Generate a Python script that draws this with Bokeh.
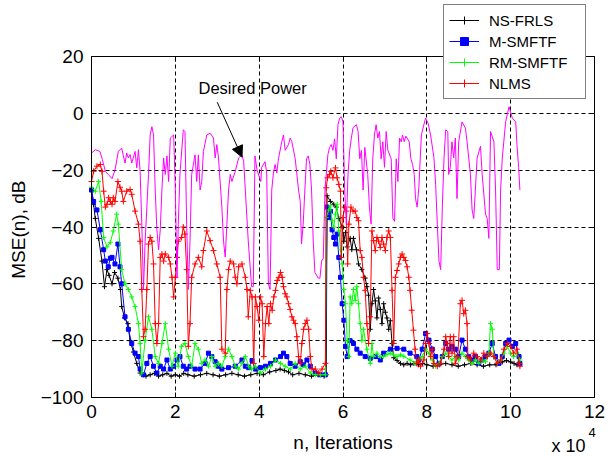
from bokeh.plotting import figure
from bokeh.models import (Range1d, FixedTicker, LinearAxis, Legend, LegendItem,
                          Label, Arrow, NormalHead, Grid)
from bokeh.embed import file_html
from bokeh.resources import INLINE

# x values are in units of 1e4 iterations
x_ticks = [0, 2, 4, 6, 8, 10, 12]
y_ticks = [-100, -80, -60, -40, -20, 0, 20]

desired_power = [
    (0.00, -14), (0.09, -12.8), (0.2, -13.4), (0.26, -16.3), (0.33, -20.4), (0.4, -21.5),
    (0.49, -23), (0.56, -20), (0.64, -13.4), (0.72, -12.2), (0.76, -15), (0.8, -17.5),
    (0.84, -14), (0.88, -15.7), (0.92, -14.5), (0.96, -17.5), (1.04, -13.4), (1.08, -19.2),
    (1.12, -12.8), (1.16, -20.4), (1.2, -39), (1.24, -62), (1.28, -45), (1.36, -21.5),
    (1.4, -7.6), (1.44, -4.7), (1.48, -7.6), (1.52, -27), (1.56, -41), (1.6, -48),
    (1.64, -41), (1.68, -27), (1.72, -15.7), (1.76, -21.5), (1.8, -15), (1.84, -24),
    (1.88, -8.7), (1.96, -7.6), (2.0, -27), (2.04, -58), (2.07, -39), (2.11, -21.5),
    (2.19, -5.8), (2.23, -6.4), (2.27, -39), (2.31, -62), (2.35, -45), (2.39, -21.5),
    (2.47, -14.6), (2.51, -24), (2.55, -14.6), (2.59, -27), (2.63, -24), (2.67, -13.4),
    (2.75, -7.6), (2.83, -7), (2.91, -8.7), (2.95, -15.7), (2.99, -11), (3.03, -15.7),
    (3.11, -33), (3.15, -45), (3.19, -50.6), (3.23, -39), (3.27, -27), (3.31, -21.5),
    (3.35, -24), (3.43, -20.4), (3.51, -15.7), (3.59, -14.6), (3.63, -17), (3.67, -27),
    (3.74, -45), (3.82, -61), (3.86, -61), (3.9, -15), (3.95, -20), (4.04, -24),
    (4.06, -19), (4.14, -17), (4.18, -21), (4.22, -60), (4.26, -62), (4.3, -27),
    (4.34, -21), (4.38, -18), (4.42, -21), (4.46, -16), (4.54, -10), (4.58, -7.6),
    (4.62, -13), (4.7, -11), (4.74, -8.7), (4.78, -10), (4.86, -16), (4.94, -27),
    (4.98, -31), (5.01, -46), (5.05, -39), (5.09, -27), (5.13, -16), (5.17, -15),
    (5.21, -18), (5.25, -27), (5.29, -45), (5.33, -56), (5.41, -58), (5.45, -58),
    (5.49, -52), (5.53, -51), (5.57, -27), (5.6, -21.5), (5.64, -14.5), (5.68, -12),
    (5.72, -11), (5.76, -13), (5.8, -9), (5.84, -16), (5.88, -4), (5.92, -1.7),
    (5.96, -1.2), (6.0, -3), (6.04, -27), (6.08, -39), (6.12, -21.5), (6.16, -13),
    (6.2, -8.7), (6.24, -5), (6.32, -4), (6.36, -6.4), (6.4, -16), (6.44, -13),
    (6.48, -27), (6.52, -12), (6.55, -16), (6.59, -21.5), (6.63, -33), (6.67, -39),
    (6.71, -16), (6.75, -7.6), (6.79, -4), (6.83, -8.7), (6.87, -6.4), (6.91, -16),
    (6.95, -10), (6.99, -19), (7.03, -6.4), (7.07, -13), (7.15, -16), (7.19, -37),
    (7.23, -38), (7.27, -16), (7.31, -24), (7.35, -8.7), (7.39, -10), (7.42, -7.6),
    (7.46, -10), (7.5, -8), (7.58, -10), (7.62, -16), (7.66, -18), (7.7, -21.5),
    (7.73, -30), (7.77, -33), (7.81, -26), (7.87, -7.6), (7.93, -4), (7.97, -1.7),
    (8.03, -3.5), (8.09, -7.6), (8.17, -15.7), (8.21, -25), (8.25, -39), (8.29, -52),
    (8.33, -55), (8.37, -33), (8.41, -15.7), (8.45, -5.8), (8.5, -6.4), (8.52, -21.5),
    (8.56, -19), (8.6, -10), (8.64, -15.7), (8.68, -8.7), (8.72, -30), (8.76, -10),
    (8.84, -3), (8.92, -5.2), (8.96, -10), (9.04, -21.5), (9.08, -34), (9.12, -37),
    (9.2, -15.7), (9.28, -11.6), (9.32, -21.5), (9.4, -35.5), (9.44, -37), (9.48, -44),
    (9.52, -6.4), (9.6, -10), (9.64, -27), (9.68, -55), (9.73, -55), (9.76, -27),
    (9.8, -15.7), (9.88, -3), (9.96, 2.3), (10.04, -1.7), (10.12, -3), (10.15, -11),
    (10.19, -19), (10.22, -27),
]

ns_frls = [
    (0.0, -27), (0.05, -32), (0.09, -37), (0.17, -44), (0.25, -52), (0.31, -61),
    (0.37, -55), (0.42, -57), (0.49, -60), (0.55, -56), (0.63, -58), (0.69, -62),
    (0.72, -68), (0.79, -72), (0.87, -74), (0.92, -80), (1.0, -84), (1.08, -88),
    (1.16, -91.4), (1.24, -92), (1.3, -92.5), (1.4, -92), (1.5, -91.5), (1.6, -92.5),
    (1.7, -92), (1.8, -91.5), (1.9, -92.5), (2.0, -92), (2.1, -92.5), (2.2, -91.5),
    (2.3, -92), (2.45, -92.5), (2.6, -92), (2.75, -91.5), (2.9, -92), (3.05, -92.5),
    (3.2, -92), (3.35, -91.5), (3.5, -92), (3.65, -92.5), (3.8, -92), (3.95, -91.5),
    (4.1, -92), (4.25, -91), (4.4, -90.5), (4.5, -90), (4.6, -90.5), (4.7, -91),
    (4.8, -92), (4.95, -91.5), (5.1, -92), (5.25, -92.5), (5.4, -92), (5.55, -92.5),
    (5.6, -92),
    (5.62, -29), (5.7, -31), (5.78, -32), (5.84, -33), (5.9, -37), (5.98, -40),
    (6.02, -45), (6.06, -42), (6.1, -47), (6.17, -44), (6.21, -48), (6.25, -44),
    (6.32, -48), (6.37, -53), (6.45, -55), (6.53, -58), (6.57, -61), (6.61, -64),
    (6.65, -76), (6.69, -67), (6.73, -62), (6.77, -66), (6.81, -72), (6.85, -65),
    (6.89, -69), (6.93, -74), (6.97, -67), (7.01, -70), (7.05, -72), (7.09, -76),
    (7.13, -73), (7.17, -81), (7.21, -86), (7.29, -87), (7.37, -88), (7.45, -88.5),
    (7.53, -88), (7.61, -88.5), (7.69, -88), (7.8, -88.5), (7.9, -88), (8.0, -88.5),
    (8.15, -89), (8.3, -88.5), (8.45, -88), (8.6, -88.5), (8.75, -89), (8.9, -88.5),
    (9.05, -88), (9.2, -88.5), (9.35, -89), (9.5, -88.5), (9.65, -88.5), (9.8, -87.5),
    (9.9, -87), (10.0, -87.5), (10.08, -88), (10.15, -88.5), (10.22, -88.5),
]

m_smftf = [
    (0.0, -27), (0.05, -31), (0.13, -34), (0.21, -41), (0.29, -48), (0.33, -52),
    (0.4, -54), (0.45, -51), (0.49, -50.7), (0.56, -53), (0.63, -46), (0.68, -54),
    (0.72, -60), (0.8, -71.6), (0.88, -76), (0.96, -81), (1.04, -84.4), (1.12, -85.6),
    (1.16, -90), (1.24, -92), (1.32, -88), (1.4, -85.6), (1.48, -89), (1.56, -91.4),
    (1.64, -89), (1.72, -90), (1.8, -86.8), (1.88, -90), (1.96, -89), (2.04, -86.8),
    (2.11, -85.6), (2.19, -89), (2.27, -90), (2.35, -89), (2.47, -90), (2.59, -90),
    (2.71, -88), (2.79, -84.4), (2.87, -85.6), (2.95, -87.4), (3.03, -89), (3.11, -90),
    (3.27, -89.5), (3.43, -89), (3.59, -86.8), (3.67, -89), (3.75, -89.5), (3.83, -87),
    (3.91, -90), (4.03, -89.5), (4.15, -89), (4.27, -88), (4.39, -86.8), (4.51, -85.6),
    (4.58, -84.4), (4.66, -85.6), (4.74, -88), (4.86, -89), (4.98, -87.4), (5.06, -88.5),
    (5.14, -86.8), (5.22, -89), (5.34, -91.4), (5.46, -92), (5.58, -92),
    (5.62, -33), (5.66, -36.7), (5.7, -34.5), (5.74, -41), (5.78, -43.7), (5.82, -46),
    (5.86, -42.5), (5.9, -50.7), (5.94, -57.7), (5.98, -67), (6.02, -72.8), (6.06, -82),
    (6.1, -85.6), (6.17, -80), (6.25, -81), (6.33, -83), (6.41, -84.4), (6.53, -85.6),
    (6.65, -86.2), (6.77, -85.6), (6.89, -86.8), (6.97, -84.4), (7.13, -83), (7.29, -82.7),
    (7.45, -83), (7.6, -84.4), (7.76, -85.6), (7.81, -86.8), (7.89, -83), (7.97, -77.5),
    (8.05, -79.8), (8.13, -83), (8.21, -85.6), (8.29, -88), (8.37, -85.6), (8.45, -81),
    (8.52, -83), (8.6, -82), (8.68, -83), (8.76, -85.6), (8.84, -79.8), (8.92, -83),
    (9.0, -85.6), (9.08, -86.8), (9.16, -85.6), (9.24, -88), (9.32, -86.8), (9.4, -85.6),
    (9.48, -84.4), (9.56, -81), (9.64, -85.6), (9.72, -88), (9.8, -85.6), (9.88, -81),
    (9.96, -79.8), (10.04, -82), (10.12, -81), (10.2, -85.6), (10.22, -88),
]

rm_smftf = [
    (0.0, -26), (0.09, -27.4), (0.17, -24), (0.23, -31), (0.29, -43.7), (0.37, -47),
    (0.45, -45.4), (0.52, -41.4), (0.6, -35.5), (0.64, -39), (0.72, -55), (0.8, -60),
    (0.88, -62), (0.96, -64.6), (1.04, -68), (1.12, -74), (1.16, -81), (1.2, -91.4),
    (1.28, -79.8), (1.36, -71.6), (1.44, -76), (1.52, -85.6), (1.6, -88), (1.68, -81),
    (1.76, -74), (1.84, -83), (1.92, -89), (2.0, -84.4), (2.07, -89), (2.15, -82),
    (2.23, -81), (2.31, -85.6), (2.39, -89), (2.47, -81), (2.55, -83), (2.63, -88),
    (2.71, -86.8), (2.79, -89), (2.87, -85.6), (2.95, -89), (3.03, -88), (3.11, -89),
    (3.19, -85.6), (3.27, -83), (3.35, -85.6), (3.43, -89), (3.51, -90), (3.59, -88),
    (3.67, -85.6), (3.75, -89), (3.82, -90), (3.91, -89), (4.03, -91.4), (4.15, -90),
    (4.27, -89), (4.39, -86.8), (4.51, -88), (4.62, -89), (4.74, -90), (4.86, -88),
    (4.98, -90), (5.1, -89), (5.22, -91.4), (5.34, -92), (5.46, -92), (5.58, -92),
    (5.6, -36.7), (5.66, -34), (5.7, -32.6), (5.74, -37.8), (5.78, -40), (5.82, -35.5),
    (5.86, -32), (5.9, -41.4), (5.94, -48), (5.98, -53), (6.02, -62), (6.06, -67),
    (6.1, -80), (6.14, -85.6), (6.17, -64.6), (6.21, -67), (6.25, -62), (6.29, -65.8),
    (6.33, -61), (6.37, -67), (6.41, -74), (6.45, -80), (6.49, -76), (6.57, -83),
    (6.65, -88), (6.69, -81), (6.73, -85.6), (6.81, -84.4), (6.89, -85.6), (6.97, -85.6),
    (7.05, -84.8), (7.13, -84.4), (7.21, -85), (7.29, -85.6), (7.37, -85), (7.45, -85.5),
    (7.6, -86.8), (7.73, -88), (7.81, -86.8), (7.89, -85.6), (7.97, -83), (8.05, -84.4),
    (8.13, -86.8), (8.21, -89), (8.29, -88), (8.37, -85.6), (8.45, -84.4), (8.52, -85.6),
    (8.6, -86.8), (8.68, -85.6), (8.76, -86.8), (8.84, -84.4), (8.92, -85.6), (9.0, -86.8),
    (9.08, -88), (9.16, -86.8), (9.24, -88), (9.32, -86.8), (9.4, -87.4), (9.48, -84.4),
    (9.52, -74), (9.56, -76), (9.6, -85.6), (9.68, -88), (9.76, -86.8), (9.84, -84.4),
    (9.92, -82), (10.0, -84.4), (10.07, -85.6), (10.15, -84.4), (10.22, -86.8),
]

nlms = [
    (0.0, -24), (0.05, -20.4), (0.13, -18.6), (0.21, -18), (0.25, -20.4), (0.29, -27.4),
    (0.33, -33), (0.37, -32), (0.41, -29.7), (0.45, -31), (0.49, -32), (0.52, -29.7),
    (0.56, -31), (0.63, -24), (0.68, -26), (0.72, -27.4), (0.76, -31), (0.84, -27.4),
    (0.92, -26.8), (0.96, -28.5), (1.04, -34.4), (1.12, -39), (1.16, -45), (1.2, -62),
    (1.24, -78.6), (1.28, -76), (1.32, -62), (1.36, -46), (1.4, -43.7), (1.44, -45),
    (1.48, -53), (1.52, -74), (1.56, -81), (1.6, -74), (1.64, -50.7), (1.68, -49.5),
    (1.72, -52), (1.76, -49.5), (1.84, -50.7), (1.88, -53), (1.92, -57.7), (1.96, -64.6),
    (2.0, -57.7), (2.04, -50.7), (2.07, -45), (2.15, -43.7), (2.19, -40), (2.23, -42.5),
    (2.27, -55), (2.31, -82), (2.35, -74), (2.39, -57.7), (2.47, -53), (2.55, -50.7),
    (2.63, -54), (2.67, -48.3), (2.75, -41.4), (2.83, -44.8), (2.91, -48.3), (2.99, -53),
    (3.07, -57.7), (3.11, -83), (3.19, -84.4), (3.23, -62), (3.27, -55), (3.31, -52),
    (3.39, -53), (3.43, -57.7), (3.47, -60), (3.51, -54), (3.59, -53), (3.67, -57.7),
    (3.71, -62), (3.74, -71.6), (3.79, -62.3), (3.83, -64.6), (3.87, -88), (3.91, -64.6),
    (3.95, -68), (3.99, -72.8), (4.03, -64.6), (4.07, -67), (4.11, -85.6), (4.15, -74),
    (4.19, -68), (4.23, -74), (4.27, -67), (4.31, -69.3), (4.35, -64.6), (4.39, -62.3),
    (4.43, -58.8), (4.47, -57.7), (4.51, -56), (4.55, -57.7), (4.58, -61), (4.62, -63.5),
    (4.66, -64.6), (4.7, -67), (4.74, -69), (4.78, -71.6), (4.82, -72.8), (4.86, -74),
    (4.9, -78.6), (4.94, -85.6), (4.98, -88), (5.02, -81), (5.06, -76), (5.1, -74),
    (5.14, -72.8), (5.18, -76), (5.22, -85.6), (5.26, -90), (5.34, -90), (5.42, -91.4),
    (5.5, -90), (5.58, -88),
    (5.6, -26.2), (5.63, -22.7), (5.68, -21.5), (5.71, -20.4), (5.76, -22.7), (5.82, -19.2),
    (5.86, -22.7), (5.9, -25), (5.94, -27.4), (5.96, -50.7), (6.0, -36.7), (6.04, -33),
    (6.08, -34.4), (6.11, -53), (6.14, -39), (6.19, -33), (6.24, -34.4), (6.29, -34.4),
    (6.33, -36.7), (6.37, -37.8), (6.41, -48.3), (6.45, -50.7), (6.49, -57.7), (6.53, -62.3),
    (6.57, -74), (6.61, -81), (6.65, -71.6), (6.69, -41.4), (6.73, -44.8), (6.77, -48.3),
    (6.81, -43.7), (6.85, -45), (6.89, -47.2), (6.93, -43.7), (6.97, -46), (7.01, -48.3),
    (7.05, -43.7), (7.09, -41.4), (7.13, -43.7), (7.17, -62.3), (7.21, -81), (7.25, -57.7),
    (7.29, -55.3), (7.33, -53), (7.37, -50.7), (7.41, -49.5), (7.45, -50.7), (7.49, -51.8),
    (7.53, -54), (7.57, -57.7), (7.6, -62.3), (7.64, -69.3), (7.68, -76.3), (7.72, -83),
    (7.76, -88), (7.81, -86.8), (7.85, -89), (7.93, -86.8), (7.97, -81), (8.01, -77.5),
    (8.05, -81), (8.09, -85.6), (8.13, -83), (8.17, -88), (8.25, -89), (8.33, -88),
    (8.41, -83), (8.45, -78.6), (8.48, -81), (8.52, -85.6), (8.56, -78.6), (8.6, -84.4),
    (8.64, -78.6), (8.68, -88), (8.74, -85.6), (8.8, -67), (8.84, -65.8), (8.88, -70.5),
    (8.92, -69.3), (8.96, -74), (8.98, -85.6), (9.04, -86.8), (9.12, -84.4), (9.2, -85.6),
    (9.28, -86.8), (9.36, -84.4), (9.44, -85.6), (9.52, -84.4), (9.6, -85.6), (9.68, -88),
    (9.76, -86.8), (9.84, -83), (9.92, -81), (10.0, -82), (10.07, -84.4), (10.15, -83),
    (10.2, -88), (10.22, -89),
]

FONT = "Liberation Sans"
W, H = 612, 461
# axes box in page pixels: x 91..594, y 56..397
PX_L, PX_R, PY_T, PY_B = 91, 594, 56, 397
XMIN, XMAX, YMIN, YMAX = 0, 12, -100, 20
sx = (PX_R - PX_L) / (XMAX - XMIN)
sy = (PY_B - PY_T) / (YMAX - YMIN)

p = figure(width=W, height=H, output_backend="svg", toolbar_location=None,
           x_range=Range1d(XMIN - PX_L / sx, XMAX + (W - PX_R) / sx),
           y_range=Range1d(YMIN - (H - PY_B) / sy, YMAX + PY_T / sy),
           min_border=0, min_border_left=0, min_border_right=0,
           min_border_top=0, min_border_bottom=0)
p.background_fill_color = "white"
p.border_fill_color = "white"
p.outline_line_color = None

inner_x = [t for t in x_ticks if XMIN < t < XMAX]
inner_y = [t for t in y_ticks if YMIN < t < YMAX]
p.xgrid.ticker = FixedTicker(ticks=inner_x)
p.ygrid.ticker = FixedTicker(ticks=inner_y)
for g in (p.xgrid, p.ygrid):
    g.grid_line_color = "black"
    g.grid_line_dash = "4 3"
    g.grid_line_width = 1
p.xgrid.cross_bounds = (YMIN, YMAX)
p.ygrid.cross_bounds = (XMIN, XMAX)

p.xaxis.ticker = FixedTicker(ticks=x_ticks)
p.yaxis.ticker = FixedTicker(ticks=y_ticks)
p.xaxis.fixed_location = YMIN
p.xaxis.bounds = (XMIN, XMAX)
p.yaxis.fixed_location = XMIN
p.yaxis.bounds = (YMIN, YMAX)
for ax in (p.xaxis, p.yaxis):
    ax.major_tick_in = 5
    ax.major_tick_out = 0
    ax.minor_tick_line_color = None
    ax.axis_line_color = "black"
    ax.major_tick_line_color = "black"
    ax.major_label_text_font = FONT
    ax.major_label_text_font_size = "19px"
    ax.major_label_text_color = "black"
    ax.axis_label_text_font = FONT
    ax.axis_label_text_font_size = "19px"
    ax.axis_label_text_font_style = "normal"
    ax.axis_label_text_color = "black"
p.xaxis.major_label_standoff = 7
p.yaxis.major_label_standoff = 8
p.xaxis.axis_label = "n, Iterations"
p.yaxis.axis_label = "MSE(n),  dB"
p.xaxis.axis_label_standoff = 11
p.yaxis.axis_label_standoff = 9

top_ax = LinearAxis(ticker=FixedTicker(ticks=x_ticks), fixed_location=YMAX,
                    bounds=(XMIN, XMAX),
                    major_label_overrides={t: "" for t in x_ticks})
right_ax = LinearAxis(ticker=FixedTicker(ticks=y_ticks), fixed_location=XMAX,
                      bounds=(YMIN, YMAX),
                      major_label_overrides={t: "" for t in y_ticks})
for ax in (top_ax, right_ax):
    ax.major_tick_in = 5
    ax.major_tick_out = 0
    ax.minor_tick_line_color = None
    ax.axis_line_color = "black"
    ax.major_tick_line_color = "black"
    ax.major_label_standoff = 0
p.add_layout(top_ax, "above")
p.add_layout(right_ax, "right")


def split(pairs):
    return [a for a, _ in pairs], [b for _, b in pairs]


series = [
    ("NS-FRLS", ns_frls, "#000000", "cross", 5),
    ("M-SMFTF", m_smftf, "#0000FF", "square", 4),
    ("RM-SMFTF", rm_smftf, "#00FF00", "cross", 5),
    ("NLMS", nlms, "#FF0000", "cross", 6),
]
items = []
for name, pairs, color, marker, size in series:
    xs, ys = split(pairs)
    ln = p.line(xs, ys, line_color=color, line_width=1)
    if marker == "square":
        sc = p.scatter(xs, ys, marker=marker, size=size, line_color=color,
                       fill_color=color)
    else:
        sc = p.scatter(xs, ys, marker=marker, size=size, line_color=color,
                       line_width=1)
    items.append(LegendItem(label=name, renderers=[ln, sc]))

dx, dy = split(desired_power)
p.line(dx, dy, line_color="#FF00FF", line_width=1)

p.add_layout(Label(x=2.553, y=9.09, text="Desired Power", text_font=FONT,
                   text_font_size="16.5px", text_color="black",
                   text_baseline="middle", text_align="left"))
p.add_layout(Arrow(end=NormalHead(size=11, fill_color="black", line_color="black"),
                   x_start=3.0, y_start=3.9, x_end=3.59, y_end=-15.4,
                   line_color="black", line_width=1))

p.add_layout(Label(x=11.785, y=-116.9, text="x 10", text_font=FONT,
                   text_font_size="18px", text_color="black",
                   text_align="right", text_baseline="middle"))
p.add_layout(Label(x=11.857, y=-112.3, text="4", text_font=FONT,
                   text_font_size="13px", text_color="black",
                   text_align="left", text_baseline="middle"))

legend = Legend(items=items, location=(443, 362))
legend.border_line_color = "black"
legend.border_line_width = 1
legend.background_fill_color = "white"
legend.background_fill_alpha = 1
legend.padding = 5
legend.spacing = 1
legend.margin = 0
legend.label_height = 20
legend.glyph_height = 20
legend.glyph_width = 30
legend.label_standoff = 10
legend.label_width = 91
legend.label_text_font = FONT
legend.label_text_font_size = "15px"
legend.label_text_color = "black"
p.add_layout(legend)

open("out.html", "w").write(file_html(p, INLINE))
